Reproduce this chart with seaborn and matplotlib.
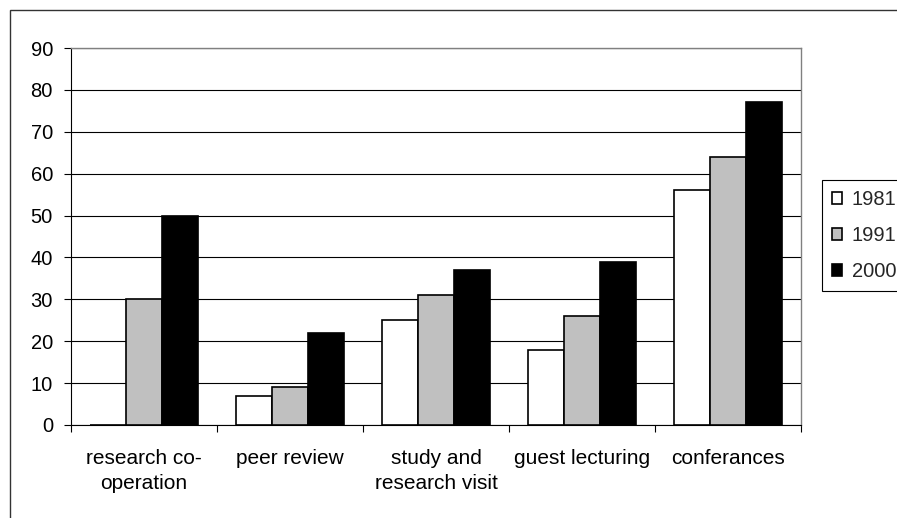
import matplotlib
matplotlib.use("Agg")
import matplotlib.pyplot as plt
from matplotlib.patches import Rectangle
import seaborn as sns
import pandas as pd

# Survey data: share of respondents engaged in each activity, by year
activities = ["research co-\noperation", "peer review", "study and\nresearch visit",
              "guest lecturing", "conferances"]
years = ["1981", "1991", "2000"]
values_1981 = [0, 7, 25, 18, 56]
values_1991 = [30, 9, 31, 26, 64]
values_2000 = [50, 22, 37, 39, 77]
y_ticks = [0, 10, 20, 30, 40, 50, 60, 70, 80, 90]

df = pd.DataFrame({
    "activity": activities * 3,
    "year": [years[0]] * 5 + [years[1]] * 5 + [years[2]] * 5,
    "value": values_1981 + values_1991 + values_2000,
})

sns.set_theme(style="white")
plt.rcParams["font.family"] = ["Liberation Sans", "DejaVu Sans"]

fig = plt.figure(figsize=(8.97, 5.18), dpi=100)
ax = fig.add_axes([71 / 897, 1 - 425 / 518, (801 - 71) / 897, (425 - 48) / 518])

palette = {"1981": "white", "1991": "#c0c0c0", "2000": "black"}
sns.barplot(data=df, x="activity", y="value", hue="year", order=activities,
            hue_order=years, palette=palette, edgecolor="black", linewidth=1.2,
            width=0.74, gap=0, saturation=1, ax=ax, legend=True, zorder=3)

ax.set_ylim(0, 90)
ax.set_xlim(-0.5, 4.5)
ax.set_yticks(y_ticks)
ax.set_xticks([0, 1, 2, 3, 4])
ax.set_xticklabels(activities, fontsize=15, linespacing=1.45)
ax.set_xlabel("")
ax.set_ylabel("")

# tick marks on the category boundaries, labels centred under each group
ax.set_xticks([-0.5, 0.5, 1.5, 2.5, 3.5, 4.5], minor=True)
ax.tick_params(axis="x", which="major", length=0, pad=17, colors="black")
ax.tick_params(axis="x", which="minor", length=5, width=0.8, color="black",
               direction="out", bottom=True)
ax.tick_params(axis="y", length=5, width=0.8, color="black", direction="out",
               pad=8, labelsize=14.5, left=True)
for lbl in ax.get_xticklabels() + ax.get_yticklabels():
    lbl.set_color("black")

ax.yaxis.grid(True, color="black", linewidth=0.8)
ax.set_axisbelow(True)
for side in ["left", "bottom"]:
    ax.spines[side].set_color("black")
    ax.spines[side].set_linewidth(0.8)
for side in ["top", "right"]:
    ax.spines[side].set_visible(True)
    ax.spines[side].set_color("#808080")
    ax.spines[side].set_linewidth(1.0)

# legend to the right of the plot area
handles, labels = ax.get_legend_handles_labels()
ax.legend(handles, labels, loc="upper left",
          bbox_to_anchor=(821.5 / 897, 1 - 180 / 518), bbox_transform=fig.transFigure,
          fontsize=14.5, frameon=True, fancybox=False, edgecolor="black",
          framealpha=1, handlelength=0.5, handleheight=0.5, handletextpad=0.5,
          labelspacing=0.85, borderpad=0.5, borderaxespad=0)
ax.get_legend().get_frame().set_linewidth(0.8)

# outer chart border
fig.patches.append(Rectangle((10 / 897, -0.2), 1.2, 1.2 - 10 / 518,
                             transform=fig.transFigure, fill=False,
                             edgecolor="#333333", linewidth=1.0))

fig.savefig("out.png", dpi=100)
